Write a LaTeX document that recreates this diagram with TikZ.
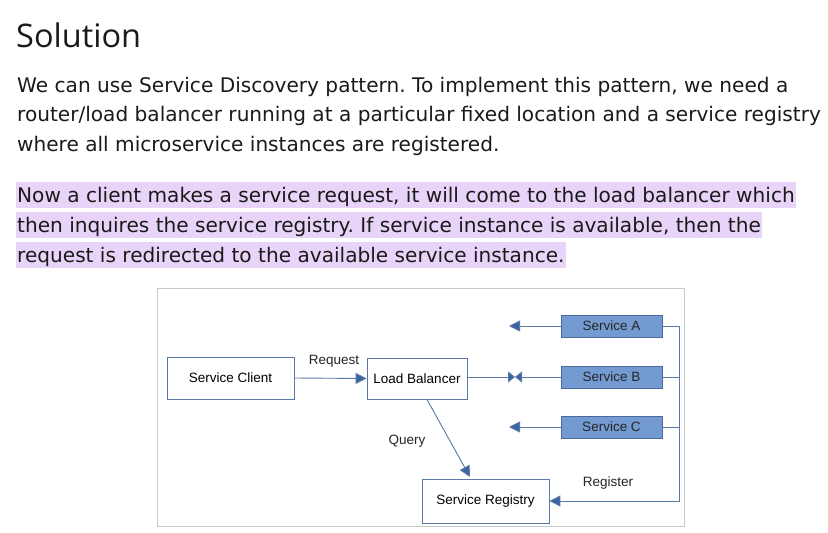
\documentclass[tikz,border=0pt]{standalone}
\usepackage{fontspec}
\setmainfont{DejaVu Sans}
\newfontfamily\titlefont{Open Sans}
\newfontfamily\diagfont{Liberation Sans}
\usetikzlibrary{arrows.meta,calc}
\definecolor{hlcol}{HTML}{E8D4F8}
\definecolor{linecol}{HTML}{5A78A6}
\definecolor{arrcol}{HTML}{3B64A3}
\definecolor{svcfill}{HTML}{739BD2}
\definecolor{svcdraw}{HTML}{4A6A9A}
\definecolor{boxdraw}{HTML}{5A78A6}
\definecolor{framecol}{HTML}{C8C8C8}
\definecolor{textcol}{HTML}{1A1A1A}
\frenchspacing
\tikzset{
  x=1pt,y=-1pt,
  bodyline/.style={anchor=base west,inner sep=0pt,font=\fontsize{20.1}{24}\selectfont,text=textcol},
  hl/.style={bodyline,fill=hlcol,inner xsep=1pt,text height=20pt,text depth=6pt},
  wbox/.style={draw=boxdraw,line width=0.8pt,fill=white,inner sep=0pt,font=\diagfont\fontsize{13.5}{15}\selectfont,text=black},
  sbox/.style={draw=svcdraw,line width=0.8pt,fill=svcfill,inner sep=0pt,minimum width=101pt,minimum height=22pt,font=\diagfont\fontsize{13.5}{15}\selectfont,text=black!85},
  lbl/.style={inner sep=0pt,font=\diagfont\fontsize{13.5}{15}\selectfont,text=black!85},
  conn/.style={draw=linecol,line width=0.9pt},
  arr/.style={conn,-{Triangle[length=11pt,width=11pt,fill=arrcol]}},
  arrs/.style={conn,-{Triangle[length=7pt,width=11pt,fill=arrcol]}},
}
\begin{document}
\begin{tikzpicture}
\useasboundingbox (0,0) rectangle (828,533);
\fill[white] (0,0) rectangle (828,533);
% title and text
\node[anchor=base west,inner sep=0pt,font=\titlefont\fontsize{32.5}{36}\selectfont,text=textcol] (title) at (16,47) {Solution};
\node[bodyline] (p1) at (17,92) {We can use Service Discovery pattern. To implement this pattern, we need a};
\node[bodyline] (p2) at (17,121) {router/load balancer running at a particular fixed location and a service registry};
\node[bodyline] (p3) at (17,151) {where all microservice instances are registered.};
\node[hl] (q1) at (16,202) {Now a client makes a service request, it will come to the load balancer which};
\node[hl] (q2) at (16,232) {then inquires the service registry. If service instance is available, then the};
\node[hl] (q3) at (16,262) {request is redirected to the available service instance.};
% frame
\draw[framecol,line width=0.8pt] (157,288.5) rectangle (684.5,526);
% boxes
\node[wbox,minimum width=127pt,minimum height=42pt] (client) at (230.5,378) {Service Client};
\node[wbox,minimum width=100pt,minimum height=41pt] (lb) at (417,378.5) {Load Balancer};
\node[wbox,minimum width=127pt,minimum height=44pt] (reg) at (485.5,501) {Service Registry};
\node[sbox] (sa) at (611.5,326) {Service A};
\node[sbox] (sb) at (611.5,377) {Service B};
\node[sbox] (sc) at (611.5,427) {Service C};
% coordinates
\coordinate (ta) at (509,326);
\coordinate (tb) at (515,377);
\coordinate (tc) at (509,427);
\coordinate (ra) at (679,326);
\coordinate (rr) at (679,501);
\coordinate (qs) at (427,399.5);
\coordinate (qe) at (470,477);
% connectors
\draw[arr] (client.east) -- (lb.west);
\draw[arr] (qs) -- (qe);
\draw[arr] (sa.west) -- (ta);
\draw[arr] (sc.west) -- (tc);
\draw[arrs] (sb.west) -- (tb);
\draw[arrs] (lb.east |- tb) -- (tb);
\draw[arr] (sa.east) -- (ra) -- (rr) -- (reg.east);
\draw[conn] (sb.east) -- (sb.east -| ra);
\draw[conn] (sc.east) -- (sc.east -| ra);
% labels
\node[lbl] (lreq) at (334,361) {Request};
\node[lbl] (lq) at (407,441) {Query};
\node[lbl] (lr) at (608,483) {Register};
\end{tikzpicture}
\end{document}
